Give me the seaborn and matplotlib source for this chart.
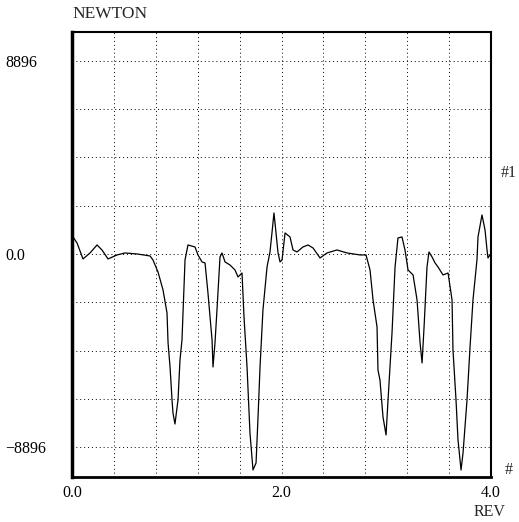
import numpy as np
import pandas as pd
import matplotlib
matplotlib.use("Agg")
import matplotlib.pyplot as plt
import seaborn as sns

# Force trace: revolution vs. newton
rev = [0.010, 0.048, 0.105, 0.172, 0.239, 0.286, 0.344, 0.430, 0.506, 0.621,
       0.745, 0.773, 0.821, 0.869, 0.907, 0.917, 0.936, 0.955, 0.964, 0.983,
       1.012, 1.031, 1.050, 1.079, 1.107, 1.174, 1.203, 1.241, 1.270, 1.298,
       1.337, 1.346, 1.365, 1.384, 1.413, 1.432, 1.461, 1.508, 1.556, 1.585,
       1.623, 1.642, 1.671, 1.699, 1.728, 1.757, 1.776, 1.795, 1.823, 1.862,
       1.890, 1.909, 1.928, 1.938, 1.967, 1.986, 2.005, 2.034, 2.081, 2.110,
       2.148, 2.205, 2.253, 2.301, 2.368, 2.434, 2.530, 2.625, 2.750, 2.807,
       2.845, 2.874, 2.912, 2.921, 2.940, 2.969, 2.998, 3.017, 3.055, 3.084,
       3.112, 3.150, 3.179, 3.208, 3.256, 3.294, 3.323, 3.342, 3.361, 3.389,
       3.408, 3.437, 3.466, 3.494, 3.542, 3.590, 3.628, 3.637, 3.666, 3.685,
       3.714, 3.733, 3.771, 3.800, 3.828, 3.866, 3.876, 3.914, 3.943, 3.962,
       3.971, 3.990]
newton = [783, 507, -230, 46, 414, 184, -230, -46, 46, 0,
          -92, -276, -829, -1658, -2717, -4098, -5204, -6723, -7322, -7829,
          -6723, -4881, -3960, -276, 414, 322, -46, -368, -414, -1796,
          -3960, -5204, -4098, -2579, -138, 46, -368, -507, -737, -1059,
          -875, -2901, -5204, -8243, -9947, -9624, -7506, -5204, -2579, -599,
          92, 967, 1888, 1428, 46, -368, -276, 967, 783, 184,
          92, 322, 414, 276, -184, 46, 184, 46, -46, -46,
          -737, -2118, -3362, -5342, -5802, -7506, -8335, -6723, -3638, -599,
          737, 783, 184, -737, -967, -2118, -4098, -5019, -3362, -599,
          92, -138, -414, -599, -967, -875, -2118, -4421, -6723, -8565,
          -9947, -9164, -6723, -4283, -2118, -276, 783, 1796, 1105, 184,
          -184, -46]

ytick_vals = [8896, 0, -8896]
ytick_text = ["8896", "0.0", "\u22128896"]
xtick_vals = [0.0, 2.0, 4.0]
xtick_text = ["0.0", "2.0", "4.0"]

df = pd.DataFrame({"REV": rev, "NEWTON": newton})

sns.set_theme(style="white")
plt.rcParams["font.family"] = ["Liberation Serif", "DejaVu Serif"]

fig = plt.figure(figsize=(5.19, 5.22), dpi=100)
ax = fig.add_axes([72 / 519, 1 - 477 / 522, 419 / 519, 445 / 522])

sns.lineplot(data=df, x="REV", y="NEWTON", ax=ax, sort=False, estimator=None,
             color="black", linewidth=0.9)

ax.set_xlim(0, 4)
ax.set_ylim(-10270, 10220)

# dotted grid every 0.4 rev and every 2224 N
for gx in np.arange(0.4, 4.0, 0.4):
    ax.axvline(gx, color="black", lw=0.7, ls=(0, (1, 3)), zorder=0)
for gy in np.arange(-4, 5) * 2224:
    ax.axhline(gy, color="black", lw=0.7, ls=(0, (1, 3)), zorder=0)

ax.set_yticks(ytick_vals, ytick_text)
ax.set_xticks(xtick_vals, xtick_text)
ax.tick_params(axis="both", length=0, labelsize=11.5, colors="black")
ax.tick_params(axis="y", pad=48)
ax.tick_params(axis="x", pad=6)
for lab in ax.get_yticklabels():
    lab.set_ha("left")
ax.set_xlabel("")
ax.set_ylabel("")

for side, w in [("left", 2.5), ("bottom", 2.0), ("top", 1.5), ("right", 1.5)]:
    ax.spines[side].set_visible(True)
    ax.spines[side].set_color("black")
    ax.spines[side].set_linewidth(w)

fig.text(72 / 519, 1 - 14 / 522, "NEWTON", fontsize=12.5, ha="left", va="center")
fig.text(509 / 519, 1 - 173 / 522, "#1", fontsize=11.5, ha="center", va="center")
fig.text(509 / 519, 1 - 470 / 522, "#", fontsize=11.5, ha="center", va="center")
fig.text(490 / 519, 1 - 512 / 522, "REV", fontsize=11.5, ha="center", va="center")

fig.savefig("out.png", dpi=100, facecolor="white")
